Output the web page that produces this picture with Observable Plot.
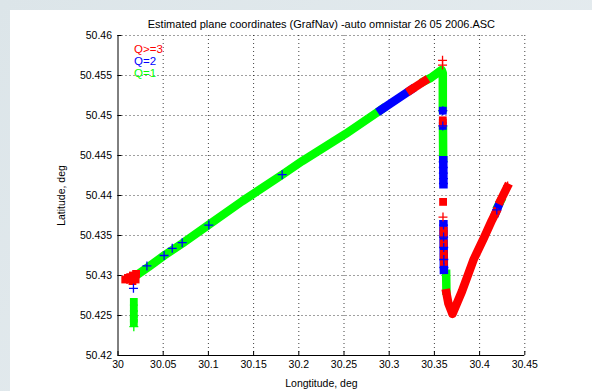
<!DOCTYPE html>
<html><head><meta charset="utf-8">
<script src="https://cdn.jsdelivr.net/npm/d3@7"></script>
<script src="https://cdn.jsdelivr.net/npm/@observablehq/plot@0.6"></script>
<style>
html,body{margin:0;padding:0;width:592px;height:391px;overflow:hidden;background:linear-gradient(135deg,#dce5e9,#e8eef1);}
#panel{position:absolute;left:10px;top:10px;width:582px;height:381px;background:#fff;}
</style></head><body><div id="panel"></div>
<script>
// ---- text / ticks ----
const titleText = "Estimated plane coordinates (GrafNav) -auto omnistar 26 05 2006.ASC";
const xLabel = "Longtitude, deg";
const yLabel = "Latitude, deg";
const xTicks = [30, 30.05, 30.1, 30.15, 30.2, 30.25, 30.3, 30.35, 30.4, 30.45];
const yTicks = [50.42, 50.425, 50.43, 50.435, 50.44, 50.445, 50.45, 50.455, 50.46];
const legendLabels = ["Q>=3", "Q=2", "Q=1"];
const legendColors = ["#ff0000", "#0000ff", "#00ff00"];

// ---- dense track bands (many overlapping markers) ----
const greenMainLon = [30.0200, 30.0340, 30.0510, 30.0710, 30.1000, 30.1375, 30.1816, 30.2038, 30.2517, 30.2920];
const greenMainLat = [50.4300, 50.4311, 50.4325, 50.4340, 50.4363, 50.4393, 50.4426, 50.4443, 50.4477, 50.4508];
const blueMainLon = [30.2910, 30.3240];
const blueMainLat = [50.4507, 50.4532];
const redMainLon = [30.3240, 30.3390];
const redMainLat = [50.4532, 50.4543];
const greenTopLon = [30.3390, 30.3460, 30.3580, 30.3593, 30.3593];
const greenTopLat = [50.4543, 50.4547, 50.4557, 50.4553, 50.4509];
const greenVert2Lon = [30.3595, 30.3597];
const greenVert2Lat = [50.4482, 50.4447];
const blueVert1Lon = [30.3598, 30.3600];
const blueVert1Lat = [50.4444, 50.4414];
const blueVert2Lon = [30.3600, 30.3605];
const blueVert2Lat = [50.4364, 50.4307];
const greenVert3Lon = [30.3630, 30.3633];
const greenVert3Lat = [50.4302, 50.4281];
const redVLon = [30.3633, 30.3655, 30.3700, 30.3804, 30.3934, 30.4044, 30.4136, 30.4180];
const redVLat = [50.4278, 50.4265, 50.4252, 50.4280, 50.4320, 50.4346, 50.4369, 50.4379];
const blueRightLon = [30.4180, 30.4205];
const blueRightLat = [50.4379, 50.4386];
const greenRightLon = [30.4205, 30.4232];
const greenRightLat = [50.4387, 50.4393];
const redRightLon = [30.4232, 30.4303];
const redRightLat = [50.4394, 50.4410];

// ---- individual markers ----
const redSqLon = [30.0080, 30.0110, 30.0135, 30.0165, 30.0200, 30.0160, 30.0195, 30.3593, 30.3593, 30.3596, 30.3602, 30.3602, 30.3603, 30.3604, 30.3604, 30.3605];
const redSqLat = [50.4295, 50.4297, 50.4298, 50.4300, 50.4302, 50.4293, 50.4295, 50.4494, 50.4491, 50.4392, 50.4356, 50.4352, 50.4340, 50.4327, 50.4323, 50.4317];
const redPlusLon = [30.3590, 30.3590, 30.3595, 30.4310, 30.0100, 30.0140];
const redPlusLat = [50.4569, 50.4563, 50.4373, 50.4412, 50.4295, 50.4297];
const blueSqLon = [30.3593, 30.3593];
const blueSqLat = [50.4506, 50.4487];
const bluePlusLon = [30.0171, 30.0320, 30.0510, 30.0600, 30.0710, 30.1005, 30.1816, 30.3593, 30.3593, 30.3597, 30.3598, 30.3599, 30.3600, 30.3600, 30.3601, 30.3602, 30.3603, 30.3604, 30.3605, 30.4190];
const bluePlusLat = [50.4284, 50.4312, 50.4325, 50.4334, 50.4341, 50.4363, 50.4426, 50.4506, 50.4487, 50.4442, 50.4435, 50.4428, 50.4421, 50.4415, 50.4363, 50.4348, 50.4335, 50.4320, 50.4310, 50.4382];
const greenSqLon = [30.0175, 30.0175, 30.0175, 30.0175, 30.0175];
const greenSqLat = [50.4267, 50.4259, 50.4252, 50.4246, 50.4241];
const greenPlusLon = [30.0175];
const greenPlusLat = [50.4236];

const RED = legendColors[0], BLUE = legendColors[1], GREEN = legendColors[2];
const zip = (lon, lat) => lon.map((x, i) => ({x, y: lat[i]}));

const bands = [
  [greenMainLon, greenMainLat, GREEN],
  [greenTopLon, greenTopLat, GREEN],
  [greenVert2Lon, greenVert2Lat, GREEN],
  [greenVert3Lon, greenVert3Lat, GREEN],
  [greenRightLon, greenRightLat, GREEN],
  [blueMainLon, blueMainLat, BLUE],
  [blueVert1Lon, blueVert1Lat, BLUE],
  [blueVert2Lon, blueVert2Lat, BLUE],
  [blueRightLon, blueRightLat, BLUE],
  [redMainLon, redMainLat, RED],
  [redVLon, redVLat, RED],
  [redRightLon, redRightLat, RED]
];

const W = 582, H = 381;
const mL = 107.5, mR = 67.7, mT = 25, mB = 36;
const fw = W - mL - mR, fh = H - mT - mB;

const chart = Plot.plot({
  width: W, height: H,
  marginLeft: mL, marginRight: mR, marginTop: mT, marginBottom: mB,
  style: {fontFamily: "'Liberation Sans', Arial, sans-serif", fontSize: "10px", background: "transparent", overflow: "visible"},
  x: {domain: [30, 30.45]},
  y: {domain: [50.42, 50.46]},
  marks: [
    Plot.ruleX(xTicks.filter(d => d > 30), {stroke: "#000", strokeOpacity: 0.75, strokeDasharray: "1,3"}),
    Plot.ruleY(yTicks.filter(d => d > 50.42), {stroke: "#000", strokeOpacity: 0.75, strokeDasharray: "1,3"}),
    ...bands.map(([lo, la, c]) => Plot.line(zip(lo, la), {x: "x", y: "y", stroke: c, strokeWidth: 8.5, strokeLinecap: "square", strokeLinejoin: "round"})),
    Plot.dot(zip(greenSqLon, greenSqLat), {x: "x", y: "y", symbol: "square", r: 4.4, fill: GREEN}),
    Plot.dot(zip(blueSqLon, blueSqLat), {x: "x", y: "y", symbol: "square", r: 4.4, fill: BLUE}),
    Plot.dot(zip(redSqLon, redSqLat), {x: "x", y: "y", symbol: "square", r: 4.4, fill: RED}),
    Plot.dot(zip(greenPlusLon, greenPlusLat), {x: "x", y: "y", symbol: "plus", r: 3, stroke: GREEN, strokeWidth: 1.3}),
    Plot.dot(zip(bluePlusLon, bluePlusLat), {x: "x", y: "y", symbol: "plus", r: 3, stroke: BLUE, strokeWidth: 1.3}),
    Plot.dot(zip(redPlusLon, redPlusLat), {x: "x", y: "y", symbol: "plus", r: 3, stroke: RED, strokeWidth: 1.3}),
    // inward ticks
    Plot.tickY(yTicks, {y: d => d, stroke: "#000", insetRight: fw - 4}),
    Plot.tickX(xTicks, {x: d => d, stroke: "#000", insetTop: fh - 4}),
    // axis lines
    Plot.ruleX([30], {stroke: "#000"}),
    Plot.ruleY([50.42], {stroke: "#000"}),
    Plot.axisX({ticks: xTicks, tickSize: 0, tickPadding: 5, tickFormat: d => String(d), label: xLabel, labelAnchor: "center", labelArrow: "none", labelOffset: 31, fontSize: 10.5}),
    Plot.axisY({ticks: yTicks, tickSize: 0, tickPadding: 6, tickFormat: d => String(d), label: yLabel, labelAnchor: "center", labelArrow: "none", labelOffset: 60, fontSize: 10.5}),
    ...legendLabels.map((lab, i) => Plot.text([lab], {text: d => d, frameAnchor: "top-left", dx: 16, dy: 9 + 12 * i, fill: legendColors[i], fontSize: 11.5, textAnchor: "start"})),
    Plot.text([titleText], {text: d => d, frameAnchor: "top", dy: -15, fontSize: 11, fill: "#000"})
  ]
});
document.getElementById("panel").appendChild(chart);
</script>
</body></html>
